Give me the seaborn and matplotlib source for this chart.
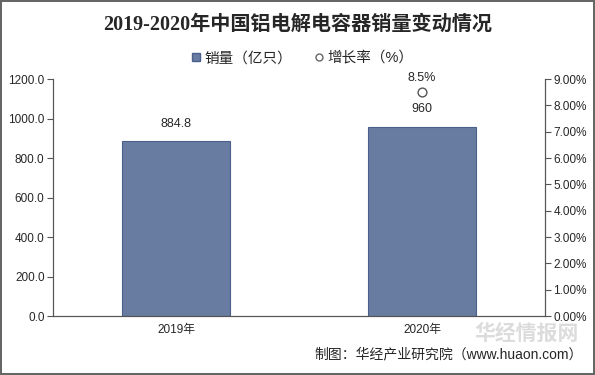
import numpy as np
import pandas as pd
import seaborn as sns
import matplotlib.pyplot as plt
from matplotlib.lines import Line2D

years = ["2019年", "2020年"]
sales = [884.8, 960]
growth = [np.nan, 8.5]
sales_labels = ["884.8", "960"]
growth_labels = ["", "8.5%"]

sns.set_style("white")
plt.rcParams['font.family'] = ['Liberation Sans', 'Noto Sans CJK SC']

df = pd.DataFrame({"year": years, "sales": sales, "growth": np.array(growth) / 100})

fig = plt.figure(figsize=(5.95, 3.75), dpi=100, edgecolor="#666666", linewidth=1.5)
ax = fig.add_axes([0.089, 0.157, 0.827, 0.632])

sns.barplot(data=df, x="year", y="sales", color="#687BA0", edgecolor="#4A5F8C",
            linewidth=0.8, width=0.44, saturation=1, ax=ax)
ax.set_ylim(0, 1200)
ax.set_yticks(np.arange(0, 1201, 200))
ax.set_yticklabels([f"{v:.1f}" for v in np.arange(0, 1201, 200)], fontsize=8.5)
ax.set_xlabel("")
ax.set_ylabel("")
ax.tick_params(axis="x", labelsize=8.5, length=0, pad=6)
ax.tick_params(axis="y", length=4, width=0.8, color="#555555", left=True, pad=2)
for c in ax.containers:
    ax.bar_label(c, labels=sales_labels, padding=8, fontsize=9)

ax2 = ax.twinx()
sns.scatterplot(data=df, x="year", y="growth", ax=ax2, marker="o", s=40,
                facecolor="white", edgecolor="#555555", linewidth=1, legend=False)
ax2.set_ylim(0, 0.09)
yt = np.arange(0, 0.0901, 0.01)
ax2.set_yticks(yt)
ax2.set_yticklabels([f"{v*100:.2f}%" for v in yt], fontsize=8.5)
ax2.set_ylabel("")
ax2.tick_params(axis="y", length=4, width=0.8, color="#555555", right=True, pad=2)
for x, g, lab in zip(years, growth, growth_labels):
    if not np.isnan(g):
        ax2.annotate(lab, (x, g / 100), xytext=(0, 6), textcoords="offset points",
                     ha="center", va="bottom", fontsize=9)
ax.set_xlim(-0.5, 1.5)

for a in (ax, ax2):
    a.spines["top"].set_visible(False)
    a.spines["left"].set_color("#555555")
    a.spines["right"].set_color("#555555")
    a.spines["bottom"].set_color("#555555")
    for s in a.spines.values():
        s.set_linewidth(0.8)

fig.text(0.5, 0.935, "2019-2020年中国铝电解电容器销量变动情况", ha="center", va="center",
         fontsize=14.5, fontweight="bold", family=["Liberation Serif", "Noto Sans CJK SC"])

handles = [
    Line2D([], [], marker="s", linestyle="", markersize=6, markerfacecolor="#687BA0",
           markeredgecolor="#4A5F8C", label="销量（亿只）"),
    Line2D([], [], marker="o", linestyle="", markersize=5, markerfacecolor="white",
           markeredgecolor="#666666", label="增长率（%）"),
]
fig.legend(handles=handles, loc="center", bbox_to_anchor=(0.505, 0.845), ncol=2, frameon=False,
           fontsize=10.5, handletextpad=0.0, handlelength=1.2, columnspacing=1.2)

fig.text(0.98, 0.055, "制图：华经产业研究院（www.huaon.com）", ha="right", va="center", fontsize=10)
fig.text(0.885, 0.11, "华经情报网", ha="center", va="center", fontsize=15, color="#dcdcdc",
         fontweight="bold", zorder=0)

fig.savefig("out.png", dpi=100, edgecolor=fig.get_edgecolor())
